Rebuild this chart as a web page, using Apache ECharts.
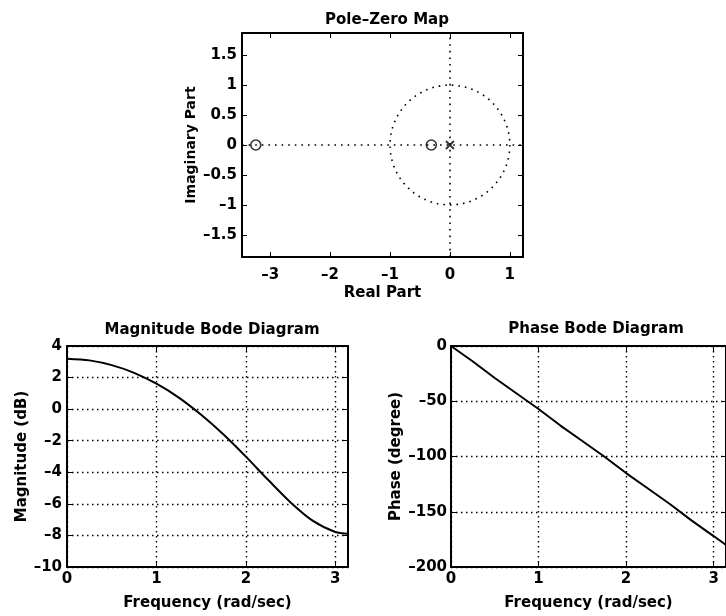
<!DOCTYPE html>
<html>
<head>
<meta charset="utf-8">
<script src="https://cdn.jsdelivr.net/npm/echarts@6/dist/echarts.min.js"></script>
<style>
  html, body { margin: 0; padding: 0; background: #fff; }
  #chart { width: 726px; height: 616px; }
</style>
</head>
<body>
<div id="chart"></div>
<script>
// pole-zero map
var zeroPts = [[-3.24, 0], [-0.31, 0]];
var polePts = [[0, 0]];
var unitCircle = [[0, 0, 1]];
var pzXTicks = [-3, -2, -1, 0, 1];
var pzYTicks = [-1.5, -1, -0.5, 0, 0.5, 1, 1.5];

// bode diagrams
var freq = [0, 0.25, 0.5, 0.75, 1.0, 1.25, 1.5, 1.75, 2.0, 2.25, 2.5, 2.75, 3.0, 3.1416];
var magDb = [3.2, 3.09, 2.79, 2.3, 1.61, 0.73, -0.36, -1.61, -3.01, -4.49, -5.91, -7.08, -7.78, -7.89];
var phaseDeg = [0, -14, -29, -43, -57, -72, -86, -100, -115, -129, -143, -158, -172, -180];
var freqTicks = [0, 1, 2, 3];

var FONT = 'DejaVu Sans';
var dotted = [1.5, 3.5];

function pairs(xs, ys) {
    var out = [];
    for (var i = 0; i < xs.length; i++) {
        out.push([xs[i], ys[i]]);
    }
    return out;
}

function minusFmt(v) {
    return String(v).replace('-', '\u2013');
}

function mainAxis(pos, gridIdx, opt) {
    var ax = {
        type: 'value',
        gridIndex: gridIdx,
        position: pos,
        min: opt.min,
        max: opt.max,
        name: opt.name,
        nameLocation: 'middle',
        nameGap: opt.nameGap,
        nameTextStyle: { fontFamily: FONT, fontWeight: 'bold', fontSize: opt.nameSize || 15, color: '#000' },
        axisLine: { show: true, onZero: false, lineStyle: { color: '#000', width: 2 } },
        axisTick: { show: true, inside: true, length: 5, lineStyle: { color: '#000', width: 1 } },
        axisLabel: { show: true, margin: opt.margin, fontFamily: FONT, fontWeight: 'bold', fontSize: 15, color: '#000', formatter: minusFmt },
        splitLine: { show: !!opt.grid, lineStyle: { color: '#000', width: 1.4, type: dotted } }
    };
    if (opt.interval) ax.interval = opt.interval;
    if (opt.ticks) {
        ax.axisTick.customValues = opt.ticks;
        ax.axisLabel.customValues = opt.ticks;
    }
    return ax;
}

function mirrorAxis(pos, gridIdx, opt) {
    var ax = {
        type: 'value',
        gridIndex: gridIdx,
        position: pos,
        min: opt.min,
        max: opt.max,
        axisLine: { show: true, onZero: false, lineStyle: { color: '#000', width: 2 } },
        axisTick: { show: true, inside: true, length: 5, lineStyle: { color: '#000', width: 1 } },
        axisLabel: { show: false },
        splitLine: { show: false }
    };
    if (opt.interval) ax.interval = opt.interval;
    if (opt.ticks) ax.axisTick.customValues = opt.ticks;
    return ax;
}

var pzX = { min: -3.47, max: 1.22, ticks: pzXTicks, name: 'Real Part', nameGap: 29, margin: 11 };
var pzY = { min: -1.87, max: 1.87, ticks: pzYTicks, name: 'Imaginary Part', nameGap: 44, margin: 5, nameSize: 14 };
var magX = { min: 0, max: Math.PI, ticks: freqTicks, name: 'Frequency (rad/sec)', nameGap: 29, margin: 5, grid: true };
var magY = { min: -10, max: 4, interval: 2, name: 'Magnitude (dB)', nameGap: 37, margin: 5, grid: true };
var phX = { min: 0, max: Math.PI, ticks: freqTicks, name: 'Frequency (rad/sec)', nameGap: 29, margin: 5, grid: true };
var phY = { min: -200, max: 0, interval: 50, name: 'Phase (degree)', nameGap: 47, margin: 4, grid: true };

var chart = echarts.init(document.getElementById('chart'));
var titleStyle = { fontFamily: FONT, fontWeight: 'bold', fontSize: 15, color: '#000' };

chart.setOption({
    animation: false,
    backgroundColor: '#fff',
    title: [
        { text: 'Pole\u2013Zero Map', left: 382, top: 8, textAlign: 'center', textStyle: titleStyle },
        { text: 'Magnitude Bode Diagram', left: 207, top: 318, textAlign: 'center', textStyle: titleStyle },
        { text: 'Phase Bode Diagram', left: 591, top: 317, textAlign: 'center', textStyle: titleStyle }
    ],
    grid: [
        { left: 242, top: 33, width: 281, height: 224 },
        { left: 67, top: 346, width: 281, height: 221 },
        { left: 451, top: 346, width: 281, height: 221 }
    ],
    xAxis: [
        mainAxis('bottom', 0, pzX), mirrorAxis('top', 0, pzX),
        mainAxis('bottom', 1, magX), mirrorAxis('top', 1, magX),
        mainAxis('bottom', 2, phX), mirrorAxis('top', 2, phX)
    ],
    yAxis: [
        mainAxis('left', 0, pzY), mirrorAxis('right', 0, pzY),
        mainAxis('left', 1, magY), mirrorAxis('right', 1, magY),
        mainAxis('left', 2, phY), mirrorAxis('right', 2, phY)
    ],
    series: [
        {
            type: 'custom',
            xAxisIndex: 0, yAxisIndex: 0,
            data: unitCircle,
            silent: true,
            renderItem: function (params, api) {
                var c = api.coord([api.value(0), api.value(1)]);
                var r = api.size([api.value(2), 0])[0];
                return {
                    type: 'circle',
                    shape: { cx: c[0], cy: c[1], r: r },
                    style: { fill: 'none', stroke: '#000', lineWidth: 1.6, lineDash: [1.6, 5] }
                };
            },
            z: 1
        },
        {
            type: 'scatter',
            xAxisIndex: 0, yAxisIndex: 0,
            data: polePts,
            symbol: 'path://M0,0L10,10M10,0L0,10',
            symbolSize: 8,
            itemStyle: { color: 'none', borderColor: '#000', borderWidth: 1.8 },
            markLine: {
                silent: true,
                symbol: 'none',
                label: { show: false },
                lineStyle: { color: '#000', width: 1.6, type: [1.6, 5] },
                data: [{ yAxis: 0 }, { xAxis: 0 }]
            },
            z: 3
        },
        {
            type: 'scatter',
            xAxisIndex: 0, yAxisIndex: 0,
            data: zeroPts,
            symbol: 'circle',
            symbolSize: 10,
            itemStyle: { color: '#fff', borderColor: '#000', borderWidth: 1.6 },
            z: 4
        },
        {
            type: 'line',
            xAxisIndex: 2, yAxisIndex: 2,
            data: pairs(freq, magDb),
            smooth: 0.3,
            showSymbol: false,
            lineStyle: { color: '#000', width: 2 }
        },
        {
            type: 'line',
            xAxisIndex: 4, yAxisIndex: 4,
            data: pairs(freq, phaseDeg),
            showSymbol: false,
            lineStyle: { color: '#000', width: 2 }
        }
    ]
});
</script>
</body>
</html>
